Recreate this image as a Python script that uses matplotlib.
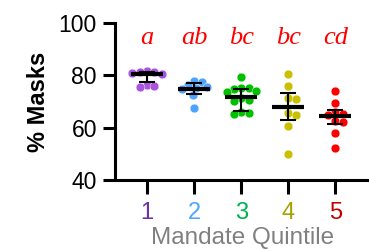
import numpy as np
import matplotlib
matplotlib.use("Agg")
import matplotlib.pyplot as plt

plt.rcParams['font.family'] = ['Liberation Sans', 'DejaVu Sans']

quintiles = ["1", "2", "3", "4", "5"]
letters = ["a", "ab", "bc", "bc", "cd"]

g1 = [81.8, 81.4, 81.2, 81.0, 80.6, 76.3, 75.8, 75.6]
g2 = [77.8, 77.6, 76.3, 75.6, 75.0, 74.6, 72.4, 67.7]
g3 = [79.2, 75.3, 75.0, 74.6, 74.0, 73.6, 71.2, 70.7, 70.3, 65.9, 65.6, 65.2]
g4 = [80.5, 76.1, 71.2, 70.9, 65.5, 65.0, 60.6, 49.9]
g5 = [73.9, 69.5, 65.9, 65.3, 64.9, 62.6, 62.2, 57.8, 52.4]
groups = [g1, g2, g3, g4, g5]

centers = [80.6, 74.8, 71.6, 67.9, 64.6]
lower = [77.3, 72.8, 66.4, 62.9, 61.5]
upper = [81.4, 77.0, 74.8, 73.4, 66.8]

point_colors = ["#AA55DD", "#4DA3FF", "#00C000", "#C8C000", "#FF0000"]
label_colors = ["#7030A0", "#4DA6FF", "#00B050", "#A8A000", "#C00000"]


def swarm(vals, d):
    # simple beeswarm in pixel units
    placed = []
    out = [0.0] * len(vals)
    order = np.argsort(vals)[::-1]
    for i in order:
        y = vals[i]
        cands = [0.0]
        for px, py in placed:
            dy = abs(y - py)
            if dy < d:
                dx = np.sqrt(d * d - dy * dy)
                cands += [px + dx, px - dx]
        cands.sort(key=abs)
        for c in cands:
            if all((c - px) ** 2 + (y - py) ** 2 >= d * d - 1e-6 for px, py in placed):
                break
        placed.append((c, y))
        out[i] = c
    return out


fig = plt.figure(figsize=(3.69, 2.5), dpi=100)
ax = fig.add_axes([0.3117, 0.28, 0.69, 0.628])
ax.set_xlim(0.32, 5.73)
ax.set_ylim(40, 100)

x0, y0 = ax.transData.transform((0, 0))
x1, y1 = ax.transData.transform((1, 1))
sx, sy = x1 - x0, y1 - y0

xs = np.arange(1, 6)
for i, vals in enumerate(groups):
    vals = np.array(vals)
    offs = np.array(swarm(vals * sy, 7.5)) / sx
    ax.scatter(xs[i] + offs, vals, s=40, color=point_colors[i],
               edgecolors="white", linewidths=0.3, zorder=2)

ax.hlines(centers, xs - 0.34, xs + 0.34, color="black", lw=3, zorder=3)
ax.errorbar(xs, centers,
            yerr=[np.array(centers) - np.array(lower), np.array(upper) - np.array(centers)],
            fmt="none", ecolor="black", elinewidth=1.5, capsize=5.5, capthick=1.5, zorder=3)

for i, t in enumerate(letters):
    ax.text(xs[i], 94.3, t, color="red", fontsize=19, style="italic",
            family="Liberation Serif", ha="center", va="center")

ax.spines["top"].set_visible(False)
ax.spines["right"].set_visible(False)
for s in ["left", "bottom"]:
    ax.spines[s].set_linewidth(2.2)

ax.set_yticks([40, 60, 80, 100])
ax.tick_params(axis="y", length=9, width=2.2, labelsize=16.5, pad=4)
ax.set_xticks(xs)
ax.set_xticklabels(quintiles)
ax.tick_params(axis="x", length=10, width=2.2, labelsize=17, pad=6)
for lab, c in zip(ax.get_xticklabels(), label_colors):
    lab.set_color(c)

ax.set_ylabel("% Masks", fontsize=17, fontweight="bold", labelpad=6)
ax.set_xlabel("Mandate Quintile", fontsize=17.5, color="#808080", labelpad=2)

fig.savefig("out.png", dpi=100)
